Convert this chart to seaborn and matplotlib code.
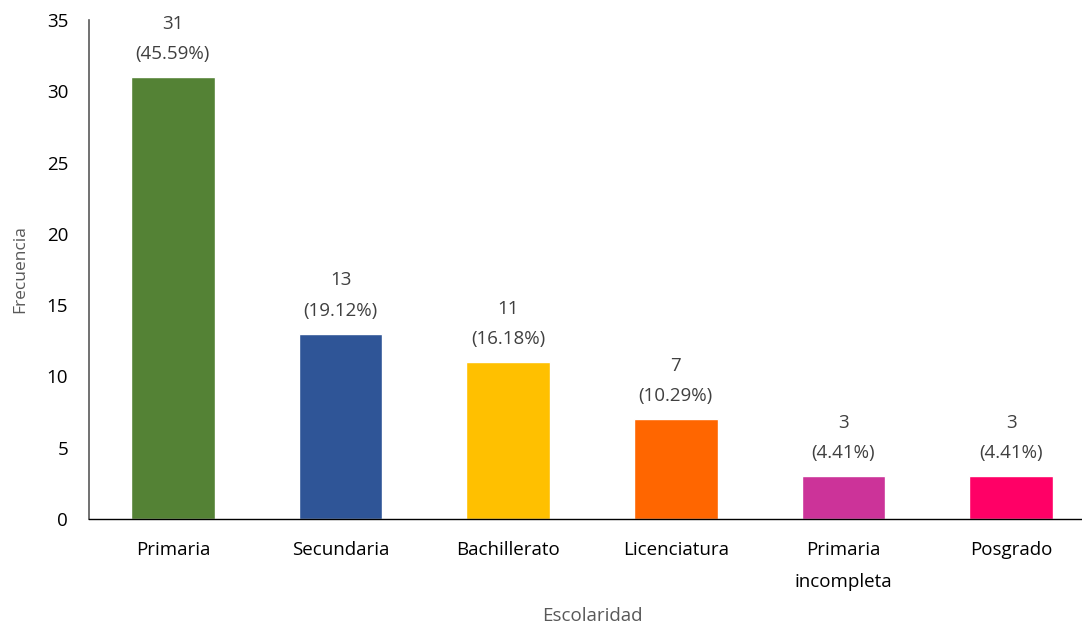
import matplotlib
matplotlib.use("Agg")
import matplotlib.pyplot as plt
import seaborn as sns
import pandas as pd

categories = ["Primaria", "Secundaria", "Bachillerato", "Licenciatura", "Primaria\nincompleta", "Posgrado"]
values = [31, 13, 11, 7, 3, 3]
percents = ["45.59%", "19.12%", "16.18%", "10.29%", "4.41%", "4.41%"]
colors = ["#548235", "#2F5597", "#FFC000", "#FF6600", "#CC3399", "#FF0066"]

sns.set_theme(style="white")
plt.rcParams['font.family'] = ['Open Sans', 'DejaVu Sans']

df = pd.DataFrame({"Escolaridad": categories, "Frecuencia": values})

fig = plt.figure(figsize=(10.82, 6.25), dpi=100)
ax = fig.add_axes([89/1082, 1 - 519/625, (1095 - 89)/1082, 499/625])
sns.barplot(data=df, x="Escolaridad", y="Frecuencia", hue="Escolaridad",
            palette=colors, legend=False, width=0.50, ax=ax, saturation=1)

for i, (v, p) in enumerate(zip(values, percents)):
    ax.annotate(f"{v}\n({p})", xy=(i, v), xytext=(0, 10), textcoords="offset points",
                ha="center", va="bottom", fontsize=13.5, color="#404040", linespacing=1.9)

ax.set_ylim(0, 35)
ax.set_yticks(range(0, 36, 5))
ax.set_xlim(-0.5, 5.5)
ax.tick_params(axis="both", length=0, labelsize=13.5, colors="black")
ax.tick_params(axis="x", pad=16)
ax.tick_params(axis="y", pad=15)
for lbl in ax.get_xticklabels():
    lbl.set_linespacing(2.0)
for s in ["top", "right"]:
    ax.spines[s].set_visible(False)
ax.spines["left"].set_color("#595959")
ax.spines["bottom"].set_color("black")
ax.spines["left"].set_linewidth(1.2)
ax.spines["bottom"].set_linewidth(1.0)
ax.set_xlabel("Escolaridad", fontsize=13.5, color="#595959", va="center")
ax.xaxis.set_label_coords(0.5, -(616 - 519) / 499)
ax.set_ylabel("Frecuencia", fontsize=12.5, color="#595959")
ax.yaxis.set_label_coords(-0.06, 0.5)

fig.savefig("out.png", dpi=100)
